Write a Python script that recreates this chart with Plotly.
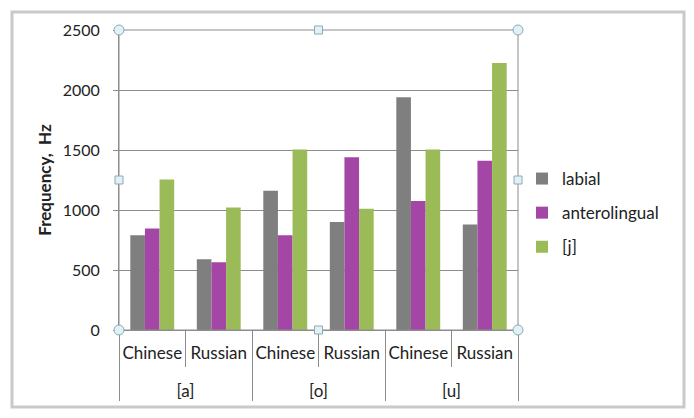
import plotly.graph_objects as go

# Vowel contexts and speaker groups
vowels = ["[a]", "[a]", "[o]", "[o]", "[u]", "[u]"]
speakers = ["Chinese", "Russian", "Chinese", "Russian", "Chinese", "Russian"]

# Frequency values (Hz) per consonant type
labial = [790, 590, 1160, 900, 1940, 880]
anterolingual = [845, 565, 790, 1440, 1075, 1410]
j_sound = [1255, 1020, 1505, 1010, 1505, 2225]

series = [
    ("labial", labial, "#7F7F7F"),
    ("anterolingual", anterolingual, "#A446A6"),
    ("[j]", j_sound, "#9BBB59"),
]

FONT = "Lato, Carlito, Calibri, sans-serif"

fig = go.Figure()
for name, vals, color in series:
    fig.add_trace(go.Bar(
        x=[["<br>" + v for v in vowels], speakers], y=vals, name=name,
        legendgroup=name,
        marker=dict(color=color, line=dict(width=0)),
    ))

# plot-area geometry in pixels (used for the frame and handles)
W, H = 694, 418
L, R, T, B = 119, 518, 30, 330
pw, ph = R - L, B - T


def px(xp):
    return (xp - L) / pw


def py(yp):
    return (B - yp) / ph


shapes = []
# outer chart frame
shapes.append(dict(type="rect", xref="paper", yref="paper",
                   x0=px(12), x1=px(684), y0=py(407), y1=py(12),
                   line=dict(color="#C9C9C9", width=3), fillcolor="rgba(0,0,0,0)",
                   layer="below"))
# plot-area selection border
shapes.append(dict(type="rect", xref="paper", yref="paper",
                   x0=0, x1=1, y0=0, y1=1,
                   line=dict(color="#8C8C8C", width=1), layer="above"))
# corner handles (circles) and edge handles (squares)
rc = 5
for cx, cy in [(L, T), (R, T), (L, B), (R, B)]:
    shapes.append(dict(type="circle", xref="paper", yref="paper",
                       x0=px(cx - rc), x1=px(cx + rc), y0=py(cy + rc), y1=py(cy - rc),
                       line=dict(color="#8AAAB8", width=1), fillcolor="#E3F1F5"))
rs = 4
for cx, cy in [((L + R) / 2, T), ((L + R) / 2, B), (L, (T + B) / 2), (R, (T + B) / 2)]:
    shapes.append(dict(type="rect", xref="paper", yref="paper",
                       x0=px(cx - rs), x1=px(cx + rs), y0=py(cy + rs), y1=py(cy - rs),
                       line=dict(color="#8AAAB8", width=1), fillcolor="#E3F1F5"))

fig.update_layout(
    width=W, height=H,
    margin=dict(l=L, r=W - R, t=T, b=H - B),
    paper_bgcolor="white", plot_bgcolor="white",
    barmode="group", bargap=0.34, bargroupgap=0,
    font=dict(family=FONT, size=16, color="#222222"),
    showlegend=True,
    legend=dict(x=px(522), y=py(161), xanchor="left", yanchor="top",
                font=dict(size=17), tracegroupgap=9, itemwidth=30,
                traceorder="grouped", bgcolor="rgba(0,0,0,0)"),
    shapes=shapes,
)

fig.update_yaxes(
    range=[0, 2500], dtick=500, showgrid=True, gridcolor="#8C8C8C", gridwidth=1,
    zeroline=False, showline=True, linecolor="#8C8C8C", automargin=False,
    ticks="outside", ticklen=5, tickcolor="#8C8C8C", ticklabelstandoff=10,
    tickfont=dict(size=16),
    title=dict(text="<b>Frequency,  Hz</b>", font=dict(size=17), standoff=6),
)
fig.update_xaxes(
    type="multicategory", showline=True, linecolor="#8C8C8C", automargin=False,
    tickangle=0,
    ticks="outside", ticklen=36, tickcolor="#8C8C8C", ticklabelstandoff=8,
    showdividers=True, dividercolor="#8C8C8C", dividerwidth=1,
    tickfont=dict(size=17),
)

fig.write_html("out.html")
